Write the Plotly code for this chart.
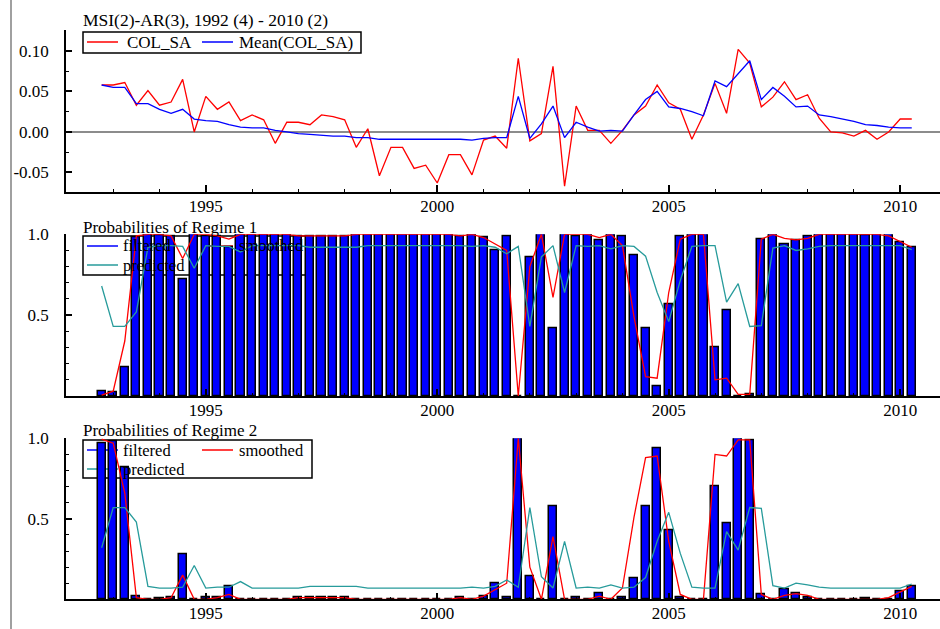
import pandas as pd
import plotly.graph_objects as go

# ---------------- data (quarterly, 1992Q4 - 2010Q2) ----------------
quarters = pd.period_range("1992Q4", "2010Q2", freq="Q")

col_sa = [0.058, 0.058, 0.061, 0.033, 0.051, 0.033, 0.037, 0.065, 0.000, 0.044,
          0.028, 0.037, 0.014, 0.021, 0.015, -0.014, 0.012, 0.012, 0.009, 0.021,
          0.019, 0.015, -0.019, 0.004, -0.054, -0.019, -0.019, -0.045, -0.041, -0.063,
          -0.028, -0.028, -0.053, -0.010, -0.005, -0.020, 0.091, -0.011, -0.002, 0.081,
          -0.067, 0.032, 0.002, 0.002, -0.014, 0.002, 0.021, 0.032, 0.058, 0.036,
          0.028, -0.009, 0.021, 0.060, 0.023, 0.102, 0.085, 0.031, 0.043, 0.062,
          0.040, 0.046, 0.017, 0.000, -0.001, -0.005, 0.002, -0.009, 0.000, 0.016,
          0.016]

mean_col_sa = [0.058, 0.055, 0.055, 0.035, 0.035, 0.028, 0.023, 0.028, 0.016, 0.014,
               0.013, 0.009, 0.006, 0.005, 0.005, 0.002, 0.000, -0.002, -0.003, -0.004,
               -0.005, -0.005, -0.007, -0.007, -0.009, -0.009, -0.009, -0.009, -0.009, -0.009,
               -0.009, -0.009, -0.010, -0.008, -0.007, -0.007, 0.044, -0.008, 0.010, 0.032,
               -0.007, 0.012, 0.006, 0.001, 0.002, 0.001, 0.021, 0.040, 0.050, 0.031,
               0.029, 0.025, 0.020, 0.063, 0.056, 0.072, 0.088, 0.040, 0.055, 0.044,
               0.031, 0.032, 0.021, 0.019, 0.016, 0.013, 0.009, 0.008, 0.006, 0.005,
               0.005]

filtered_1 = [0.03, 0.02, 0.18, 0.98, 1.0, 0.995, 0.99, 0.72, 1.0, 0.99,
              0.99, 0.92, 1.0, 1.0, 1.0, 1.0, 1.0, 0.985, 0.985, 0.985,
              0.985, 0.985, 1.0, 1.0, 1.0, 1.0, 1.0, 1.0, 1.0, 1.0,
              1.0, 0.99, 1.0, 0.98, 0.90, 0.99, 0.0, 0.86, 1.0, 0.42,
              1.0, 0.99, 1.0, 0.96, 1.0, 0.99, 0.87, 0.42, 0.06, 0.57,
              0.99, 1.0, 1.0, 0.30, 0.53, 0.0, 0.01, 0.97, 1.0, 0.94,
              0.96, 0.99, 1.0, 1.0, 1.0, 1.0, 0.995, 1.0, 1.0, 0.95,
              0.92]

smoothed_1 = [0.005, 0.03, 0.34, 0.99, 1.0, 1.0, 0.99, 0.85, 1.0, 1.0,
              0.99, 0.97, 1.0, 1.0, 1.0, 1.0, 1.0, 0.99, 0.99, 0.99,
              0.99, 0.99, 1.0, 1.0, 1.0, 1.0, 1.0, 1.0, 1.0, 1.0,
              1.0, 0.99, 1.0, 0.98, 0.94, 0.90, 0.0, 0.80, 1.0, 0.61,
              1.0, 1.0, 1.0, 0.98, 1.0, 0.93, 0.49, 0.12, 0.11, 0.64,
              0.97, 1.0, 1.0, 0.10, 0.11, 0.01, 0.01, 0.97, 1.0, 0.975,
              0.965, 0.975, 1.0, 1.0, 1.0, 1.0, 1.0, 1.0, 0.99, 0.955,
              0.92]

predicted_1 = [0.68, 0.43, 0.43, 0.52, 0.92, 0.93, 0.93, 0.925, 0.79, 0.93,
               0.925, 0.925, 0.89, 0.93, 0.93, 0.93, 0.93, 0.93, 0.92, 0.92,
               0.92, 0.92, 0.92, 0.93, 0.93, 0.93, 0.93, 0.93, 0.93, 0.93,
               0.93, 0.93, 0.925, 0.93, 0.92, 0.88, 0.925, 0.43, 0.86, 0.93,
               0.64, 0.93, 0.925, 0.93, 0.91, 0.93, 0.925, 0.865, 0.64, 0.46,
               0.715, 0.925, 0.93, 0.93, 0.58, 0.695, 0.43, 0.435, 0.915, 0.93,
               0.90, 0.91, 0.925, 0.93, 0.93, 0.93, 0.93, 0.93, 0.93, 0.93,
               0.905]

filtered_2 = [0.97, 0.98, 0.82, 0.02, 0.0, 0.005, 0.01, 0.28, 0.0, 0.01,
              0.01, 0.08, 0.0, 0.0, 0.0, 0.0, 0.0, 0.015, 0.015, 0.015,
              0.015, 0.015, 0.0, 0.0, 0.0, 0.0, 0.0, 0.0, 0.0, 0.0,
              0.0, 0.01, 0.0, 0.02, 0.10, 0.01, 1.0, 0.14, 0.0, 0.58,
              0.0, 0.01, 0.0, 0.04, 0.0, 0.01, 0.13, 0.58, 0.94, 0.43,
              0.01, 0.0, 0.0, 0.70, 0.47, 1.0, 0.99, 0.03, 0.0, 0.06,
              0.04, 0.01, 0.0, 0.0, 0.0, 0.0, 0.005, 0.0, 0.0, 0.05,
              0.08]

smoothed_2 = [0.995, 0.97, 0.66, 0.01, 0.0, 0.0, 0.01, 0.15, 0.0, 0.0,
              0.01, 0.03, 0.0, 0.0, 0.0, 0.0, 0.0, 0.01, 0.01, 0.01,
              0.01, 0.01, 0.0, 0.0, 0.0, 0.0, 0.0, 0.0, 0.0, 0.0,
              0.0, 0.01, 0.0, 0.02, 0.06, 0.10, 1.0, 0.20, 0.0, 0.39,
              0.0, 0.0, 0.0, 0.02, 0.0, 0.07, 0.51, 0.88, 0.89, 0.36,
              0.03, 0.0, 0.0, 0.90, 0.89, 0.99, 0.99, 0.03, 0.0, 0.025,
              0.035, 0.025, 0.0, 0.0, 0.0, 0.0, 0.0, 0.0, 0.01, 0.045,
              0.08]

predicted_2 = [0.32, 0.57, 0.57, 0.48, 0.08, 0.07, 0.07, 0.075, 0.21, 0.07,
               0.075, 0.075, 0.11, 0.07, 0.07, 0.07, 0.07, 0.07, 0.08, 0.08,
               0.08, 0.08, 0.08, 0.07, 0.07, 0.07, 0.07, 0.07, 0.07, 0.07,
               0.07, 0.07, 0.075, 0.07, 0.08, 0.12, 0.075, 0.57, 0.14, 0.07,
               0.36, 0.07, 0.075, 0.07, 0.09, 0.07, 0.075, 0.135, 0.36, 0.54,
               0.285, 0.075, 0.07, 0.07, 0.42, 0.305, 0.57, 0.565, 0.085, 0.07,
               0.10, 0.09, 0.075, 0.07, 0.07, 0.07, 0.07, 0.07, 0.07, 0.07,
               0.095]

year_ticks = [1995, 2000, 2005, 2010]
year_tick_text = ["1995", "2000", "2005", "2010"]
y1_ticks = [-0.05, 0.0, 0.05, 0.10]
y1_tick_text = ["-0.05", "0.00", "0.05", "0.10"]
prob_ticks = [0.5, 1.0]
prob_tick_text = ["0.5", "1.0"]

# time axis position of each quarter (year + (q-1)/4)
t = [p.year + (p.quarter - 1) / 4 for p in quarters]

# ---------------- styling ----------------
W, H = 940, 629
FONT = "Liberation Serif"
RED = "#ff0000"
BLUE = "#0000ff"
TEAL = "#279b9b"


def px(x):
    return x / W


def py(y):
    return 1 - y / H


fig = go.Figure()

# panel 1
fig.add_trace(go.Scatter(x=t, y=col_sa, mode="lines", line=dict(color=RED, width=1.3),
                         name="COL_SA", xaxis="x", yaxis="y", showlegend=False))
fig.add_trace(go.Scatter(x=t, y=mean_col_sa, mode="lines", line=dict(color=BLUE, width=1.3),
                         name="Mean(COL_SA)", xaxis="x", yaxis="y", showlegend=False))

# panels 2 & 3
for filt, smo, pred, xa, ya in [(filtered_1, smoothed_1, predicted_1, "x2", "y2"),
                                (filtered_2, smoothed_2, predicted_2, "x3", "y3")]:
    fig.add_trace(go.Bar(x=t, y=filt, width=0.175, name="filtered", xaxis=xa, yaxis=ya,
                         marker=dict(color=BLUE, line=dict(color="black", width=1.5)),
                         showlegend=False))
    fig.add_trace(go.Scatter(x=t, y=smo, mode="lines", line=dict(color=RED, width=1.3),
                             name="smoothed", xaxis=xa, yaxis=ya, showlegend=False))
    fig.add_trace(go.Scatter(x=t, y=pred, mode="lines", line=dict(color=TEAL, width=1.3),
                             name="predicted", xaxis=xa, yaxis=ya, showlegend=False))

xtickfont = dict(family=FONT, size=17, color="black")
ytickfont = dict(family=FONT, size=17, color="black")


def xaxis(anchor):
    return dict(anchor=anchor, domain=[px(66), 1], range=[1991.98, 2010.86],
                showline=True, linecolor="black", linewidth=1.5,
                ticks="inside", ticklen=7, tickwidth=1.5, tickcolor="black",
                tickmode="array", tickvals=year_ticks, ticktext=year_tick_text,
                minor=dict(tickmode="array", tickvals=list(range(1992, 2011)),
                           ticks="inside", ticklen=3, tickwidth=1, tickcolor="black"),
                showgrid=False, zeroline=False, tickfont=xtickfont, ticklabelstandoff=-2,
                automargin=False)


def prob_yaxis(anchor, top, bottom):
    return dict(anchor=anchor, domain=[py(bottom), py(top)], range=[0, 1],
                showline=True, linecolor="black", linewidth=1.5,
                ticks="inside", ticklen=6, tickwidth=1.5, tickcolor="black",
                tickmode="array", tickvals=prob_ticks, ticktext=prob_tick_text,
                minor=dict(tickmode="array", tickvals=[0.1, 0.2, 0.3, 0.4, 0.6, 0.7, 0.8, 0.9],
                           ticks="inside", ticklen=3, tickwidth=1, tickcolor="black"),
                showgrid=False, zeroline=False, tickfont=ytickfont, ticklabelstandoff=12,
                automargin=False)


fig.update_layout(
    width=W, height=H, autosize=False,
    margin=dict(l=0, r=0, t=0, b=0, pad=0, autoexpand=False),
    paper_bgcolor="white", plot_bgcolor="white", bargap=0, showlegend=False,
    font=dict(family=FONT, size=17, color="black"),
    xaxis=xaxis("y"), xaxis2=xaxis("y2"), xaxis3=xaxis("y3"),
    yaxis=dict(anchor="x", domain=[py(192), py(30)], range=[-0.0741, 0.1259],
               showline=True, linecolor="black", linewidth=1.5,
               ticks="inside", ticklen=6, tickwidth=1.5, tickcolor="black",
               tickmode="array", tickvals=y1_ticks, ticktext=y1_tick_text,
               minor=dict(tickmode="array", tickvals=[-0.075, -0.025, 0.025, 0.075, 0.125],
                          ticks="inside", ticklen=3, tickwidth=1, tickcolor="black"),
               showgrid=False, zeroline=True, zerolinecolor="#8c8c8c", zerolinewidth=1.5,
               tickfont=ytickfont, ticklabelstandoff=12, automargin=False),
    yaxis2=prob_yaxis("x2", 234.3, 396),
    yaxis3=prob_yaxis("x3", 438.3, 599.3),
)

annotations = []


def label(text, x, y, size):
    annotations.append(dict(text=text, x=px(x), y=py(y), xref="paper", yref="paper",
                            xanchor="left", yanchor="middle", showarrow=False,
                            font=dict(family=FONT, size=size, color="black")))


label("MSI(2)-AR(3), 1992 (4) - 2010 (2)", 81, 20, 17.5)
label("COL_SA", 125, 42, 17)
label("Mean(COL_SA)", 237, 42, 17)
label("Probabilities of Regime 1", 81, 227, 17)
label("filtered", 121, 246, 16.5)
label("smoothed", 237, 246, 16.5)
label("predicted", 121, 265, 16.5)
label("Probabilities of Regime 2", 81, 430, 17)
label("filtered", 121, 450, 16.5)
label("smoothed", 237, 450, 16.5)
label("predicted", 121, 469, 16.5)

shapes = [
    # window border on the left
    dict(type="line", xref="paper", yref="paper", x0=px(11), x1=px(11), y0=0, y1=1,
         line=dict(color="#a0a0a0", width=2)),
]


def box(x0, y0, x1, y1):
    shapes.append(dict(type="rect", xref="paper", yref="paper", x0=px(x0), x1=px(x1),
                       y0=py(y1), y1=py(y0), line=dict(color="black", width=1.5),
                       layer="below"))


def sample(x0, x1, y, color):
    shapes.append(dict(type="line", xref="paper", yref="paper", x0=px(x0), x1=px(x1),
                       y0=py(y), y1=py(y), line=dict(color=color, width=1.5), layer="below"))


box(83, 32, 361, 53)
sample(87, 118, 42, RED)
sample(202, 233, 42, BLUE)

box(83, 236, 312, 275)
sample(87, 118, 246, BLUE)
sample(202, 233, 246, RED)
sample(87, 118, 265, TEAL)

box(83, 440, 312, 478)
sample(87, 118, 450, BLUE)
sample(202, 233, 450, RED)
sample(87, 118, 469, TEAL)

fig.update_layout(annotations=annotations, shapes=shapes)

fig.write_html("out.html")
